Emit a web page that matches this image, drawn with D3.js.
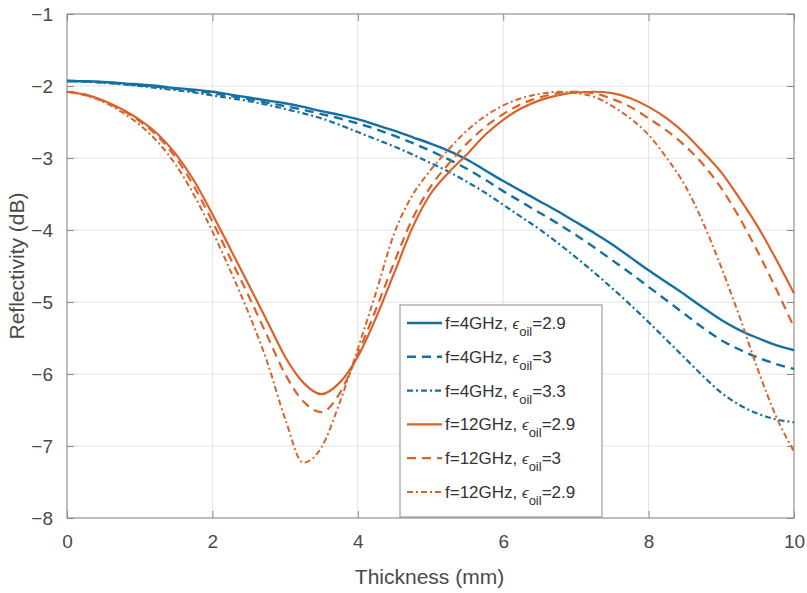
<!DOCTYPE html>
<html>
<head>
<meta charset="utf-8">
<script src="https://cdn.jsdelivr.net/npm/d3@7"></script>
<style>
  html, body { margin: 0; padding: 0; background: #fff; }
  svg { display: block; font-family: "Liberation Sans", Arial, sans-serif; }
</style>
</head>
<body>
<svg id="chart" width="807" height="593"></svg>
<script>
// Thickness grid (mm) shared by every curve
const thickness = d3.range(0, 10.001, 0.25).map(v => +v.toFixed(2));

// Reflectivity (dB), f = 4 GHz
const f4_eps29 = [-1.93,-1.935,-1.945,-1.96,-1.98,-2.0,-2.03,-2.05,-2.08,-2.12,-2.16,-2.20,-2.24,-2.29,-2.35,-2.40,-2.46,-2.54,-2.62,-2.71,-2.80,-2.90,-3.02,-3.17,-3.32,-3.46,-3.60,-3.74,-3.89,-4.04,-4.20,-4.38,-4.56,-4.73,-4.90,-5.08,-5.25,-5.39,-5.50,-5.60,-5.67];
const f4_eps3 = [-1.93,-1.935,-1.95,-1.97,-1.99,-2.01,-2.04,-2.07,-2.10,-2.14,-2.18,-2.23,-2.28,-2.33,-2.39,-2.45,-2.52,-2.60,-2.69,-2.79,-2.90,-3.02,-3.15,-3.30,-3.46,-3.61,-3.76,-3.91,-4.07,-4.24,-4.42,-4.60,-4.79,-4.98,-5.17,-5.36,-5.53,-5.66,-5.77,-5.86,-5.93];
const f4_eps33 = [-1.93,-1.94,-1.955,-1.975,-2.0,-2.03,-2.06,-2.09,-2.13,-2.17,-2.21,-2.26,-2.32,-2.38,-2.45,-2.54,-2.64,-2.74,-2.84,-2.95,-3.07,-3.19,-3.33,-3.48,-3.65,-3.82,-3.99,-4.18,-4.38,-4.59,-4.81,-5.04,-5.28,-5.53,-5.78,-6.03,-6.26,-6.43,-6.55,-6.63,-6.67];

// Reflectivity (dB), f = 12 GHz
const f12_eps29 = [-2.08,-2.12,-2.20,-2.32,-2.47,-2.67,-2.95,-3.32,-3.78,-4.27,-4.76,-5.26,-5.76,-6.12,-6.28,-6.12,-5.76,-5.22,-4.60,-3.97,-3.50,-3.20,-2.95,-2.68,-2.47,-2.31,-2.20,-2.13,-2.09,-2.08,-2.10,-2.17,-2.29,-2.45,-2.66,-2.92,-3.20,-3.56,-3.95,-4.40,-4.88];
const f12_eps3 = [-2.08,-2.12,-2.21,-2.33,-2.49,-2.70,-3.00,-3.40,-3.88,-4.40,-4.92,-5.46,-6.00,-6.38,-6.53,-6.27,-5.72,-5.10,-4.45,-3.85,-3.40,-3.08,-2.80,-2.57,-2.39,-2.25,-2.16,-2.10,-2.08,-2.10,-2.18,-2.29,-2.45,-2.62,-2.83,-3.09,-3.42,-3.83,-4.30,-4.81,-5.35];
const f12_eps29b = [-2.08,-2.13,-2.22,-2.36,-2.54,-2.78,-3.10,-3.52,-4.02,-4.57,-5.16,-5.82,-6.62,-7.23,-7.02,-6.40,-5.65,-4.87,-4.05,-3.52,-3.17,-2.88,-2.62,-2.42,-2.27,-2.17,-2.11,-2.08,-2.10,-2.15,-2.28,-2.45,-2.68,-3.00,-3.38,-3.90,-4.52,-5.20,-5.93,-6.58,-7.08];

// Axis ticks
const xTicks = [0, 2, 4, 6, 8, 10];
const yTicks = [-1, -2, -3, -4, -5, -6, -7, -8];

// Legend text parts: prefix, subscript, suffix
const legendPrefix = ["f=4GHz, ", "f=4GHz, ", "f=4GHz, ", "f=12GHz, ", "f=12GHz, ", "f=12GHz, "];
const legendSuffix = ["=2.9", "=3", "=3.3", "=2.9", "=3", "=2.9"];

const BLUE = "#1570a2", ORANGE = "#d9632b";
const series = [
  { values: f4_eps29,   color: BLUE,   dash: null,      width: 2.4 },
  { values: f4_eps3,    color: BLUE,   dash: "9,6",     width: 2.4 },
  { values: f4_eps33,   color: BLUE,   dash: "6,3,2,3", width: 2.2 },
  { values: f12_eps29,  color: ORANGE, dash: null,      width: 2.2 },
  { values: f12_eps3,   color: ORANGE, dash: "9,6",     width: 2.2 },
  { values: f12_eps29b, color: ORANGE, dash: "6,3,2,3", width: 2.0 }
];

const svg = d3.select("#chart");
const plotL = 67, plotR = 794, plotT = 14, plotB = 518;
const W = plotR - plotL, H = plotB - plotT;

const x = d3.scaleLinear().domain([0, 10]).range([plotL, plotR]);
const y = d3.scaleLinear().domain([-8, -1]).range([plotB, plotT]);

// grid
const grid = svg.append("g").attr("stroke", "#e3e3e3").attr("stroke-width", 1);
grid.selectAll("line.v").data(xTicks).join("line").attr("class", "v")
  .attr("x1", d => x(d)).attr("x2", d => x(d)).attr("y1", plotT).attr("y2", plotB);
grid.selectAll("line.h").data(yTicks).join("line").attr("class", "h")
  .attr("y1", d => y(d)).attr("y2", d => y(d)).attr("x1", plotL).attr("x2", plotR);

const axisColor = "#8a8a8a", textColor = "#4a4a4a";
function styleAxis(g, showText) {
  g.select(".domain").remove();
  g.selectAll(".tick line").attr("stroke", axisColor).attr("stroke-width", 1);
  g.selectAll(".tick text").attr("fill", textColor).attr("font-size", 19)
    .attr("font-family", "Liberation Sans, Arial, sans-serif");
  if (!showText) g.selectAll(".tick text").remove();
}

svg.append("g").attr("transform", `translate(0,${plotB})`)
  .call(d3.axisBottom(x).tickValues(xTicks).tickFormat(d3.format("d")).tickSize(-7).tickPadding(17))
  .call(g => styleAxis(g, true));
svg.append("g").attr("transform", `translate(0,${plotT})`)
  .call(d3.axisTop(x).tickValues(xTicks).tickSize(-7))
  .call(g => styleAxis(g, false));
svg.append("g").attr("transform", `translate(${plotL},0)`)
  .call(d3.axisLeft(y).tickValues(yTicks).tickFormat(d3.format("d")).tickSize(-7).tickPadding(14))
  .call(g => styleAxis(g, true));
svg.append("g").attr("transform", `translate(${plotR},0)`)
  .call(d3.axisRight(y).tickValues(yTicks).tickSize(-7))
  .call(g => styleAxis(g, false));

// plot box
svg.append("rect").attr("x", plotL).attr("y", plotT).attr("width", W).attr("height", H)
  .attr("fill", "none").attr("stroke", axisColor).attr("stroke-width", 1);

// curves
const line = d3.line().x(d => x(d[0])).y(d => y(d[1])).curve(d3.curveMonotoneX);
const curves = svg.append("g").attr("fill", "none").attr("stroke-linejoin", "round");
series.forEach(s => {
  curves.append("path")
    .datum(thickness.map((t, i) => [t, s.values[i]]))
    .attr("d", line)
    .attr("stroke", s.color)
    .attr("stroke-width", s.width)
    .attr("stroke-dasharray", s.dash);
});

// axis titles
svg.append("text").attr("x", (plotL + plotR) / 2 - 1).attr("y", 584)
  .attr("text-anchor", "middle").attr("font-size", 21).attr("fill", textColor)
  .text("Thickness (mm)");
svg.append("text").attr("transform", `translate(24,${(plotT + plotB) / 2}) rotate(-90)`)
  .attr("text-anchor", "middle").attr("font-size", 21).attr("fill", textColor)
  .text("Reflectivity (dB)");

// legend
const lg = svg.append("g");
lg.append("rect").attr("x", 400).attr("y", 305).attr("width", 202).attr("height", 212)
  .attr("fill", "#fff").attr("stroke", "#8a8a8a").attr("stroke-width", 1);
series.forEach((s, i) => {
  const cy = 323 + i * 33.8;
  lg.append("line").attr("x1", 407).attr("x2", 442).attr("y1", cy).attr("y2", cy)
    .attr("stroke", s.color).attr("stroke-width", s.width).attr("stroke-dasharray", s.dash);
  const t = lg.append("text").attr("x", 445).attr("y", cy + 6)
    .attr("font-size", 17).attr("fill", "#333");
  t.append("tspan").text(legendPrefix[i]);
  t.append("tspan").attr("font-style", "italic").attr("font-size", 15).text("ϵ");
  t.append("tspan").attr("font-size", 13).attr("dy", 7).text("oil");
  t.append("tspan").attr("dy", -7).text(legendSuffix[i]);
});
</script>
</body>
</html>
